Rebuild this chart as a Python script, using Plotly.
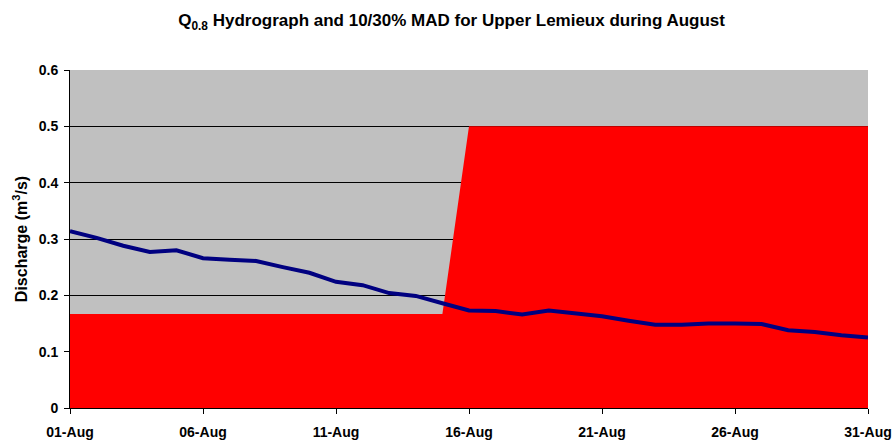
import pandas as pd
import plotly.graph_objects as go

# Daily dates for August
dates = pd.date_range("2000-08-01", "2000-08-31", freq="D")

# Q0.8 hydrograph (m3/s)
q08 = [0.314, 0.302, 0.288, 0.277, 0.280, 0.266, 0.263, 0.261, 0.250, 0.240,
       0.224, 0.218, 0.204, 0.199, 0.186, 0.173, 0.172, 0.166, 0.173, 0.168,
       0.163, 0.155, 0.148, 0.148, 0.150, 0.150, 0.149, 0.138, 0.135, 0.129,
       0.125]

# 10/30% MAD threshold: 10% MAD up to 15-Aug, 30% MAD after
mad = [0.167] * 15 + [0.5] * 16

fig = go.Figure()

fig.add_trace(go.Scatter(x=dates, y=mad, mode="lines", fill="tozeroy",
                         fillcolor="#FF0000", line=dict(color="#FF0000", width=0),
                         hoverinfo="skip", showlegend=False))

fig.add_trace(go.Scatter(x=dates, y=q08, mode="lines",
                         line=dict(color="#000080", width=4),
                         showlegend=False))

fnt = "Liberation Sans, Arial, sans-serif"

fig.update_layout(
    width=896, height=444,
    margin=dict(l=70, r=28, t=70, b=36, autoexpand=False),
    paper_bgcolor="white",
    plot_bgcolor="#C0C0C0",
    font=dict(family=fnt, size=14, color="black"),
    title=dict(text="<b>Q<sub>0.8</sub> Hydrograph and 10/30% MAD for Upper Lemieux during August</b>",
               x=0.504, xanchor="center", yref="container", y=0.955, yanchor="middle",
               font=dict(family=fnt, size=17, color="black")),
)

fig.update_xaxes(
    range=[dates[0], dates[-1]],
    tickformat="%d-%b", tick0=dates[0], dtick=5 * 86400000,
    showgrid=False, showline=True, linecolor="black", linewidth=1,
    ticks="outside", ticklen=5, tickcolor="black",
    ticklabelstandoff=6, ticklabeloverflow="allow", automargin=False,
    tickfont=dict(family=fnt, size=14, color="black", weight="bold"),
)

fig.update_yaxes(
    range=[0, 0.6], dtick=0.1, tickformat="~g",
    showgrid=True, gridcolor="black", gridwidth=1,
    showline=True, linecolor="black", linewidth=1,
    ticks="outside", ticklen=5, tickcolor="black",
    ticklabelstandoff=3,
    zeroline=False, automargin=False,
    tickfont=dict(family=fnt, size=14, color="black", weight="bold"),
    title=dict(text="<b>Discharge (m<sup>3</sup>/s)</b>", standoff=7,
               font=dict(family=fnt, size=16, color="black")),
)

# drop the default page margin so the figure sits at the window's corner
fig.write_html("out.html", config={"displayModeBar": False},
               post_script="document.body.style.margin='0';")
